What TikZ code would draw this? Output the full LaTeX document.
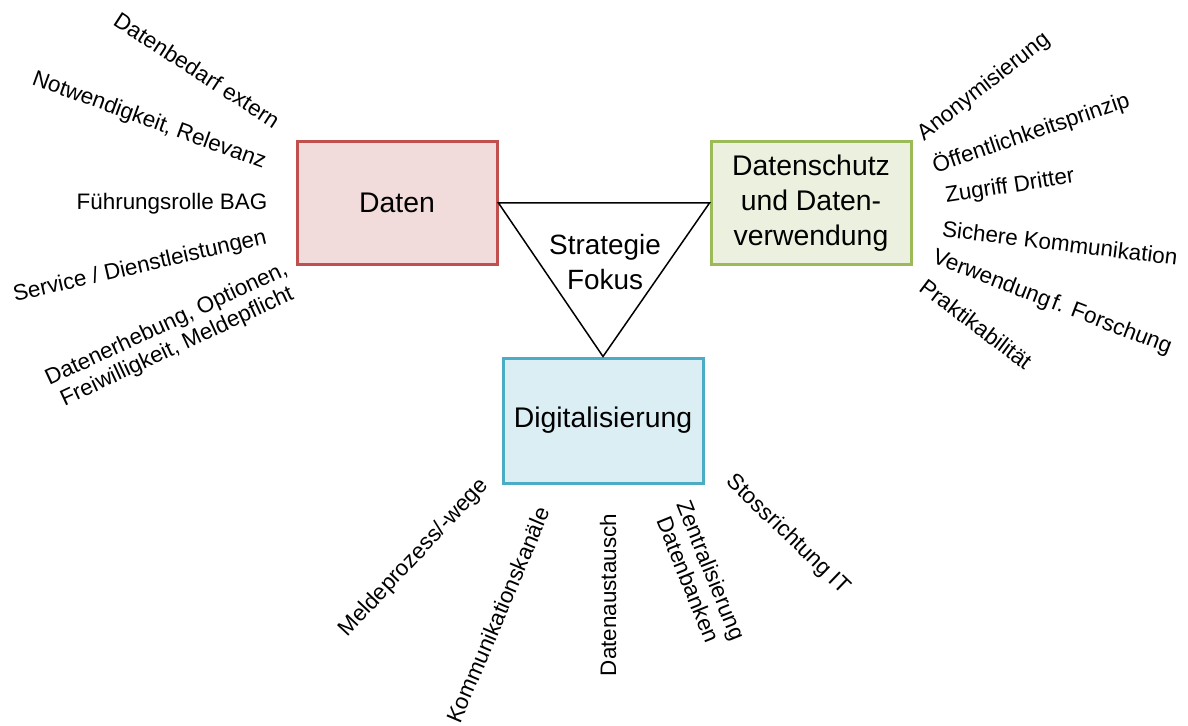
\documentclass[tikz,border=0pt]{standalone}
\usepackage{fontspec}
\setmainfont{Liberation Sans}
\definecolor{redline}{HTML}{C0504D}
\definecolor{redfill}{HTML}{F2DCDB}
\definecolor{greenline}{HTML}{9BBB59}
\definecolor{greenfill}{HTML}{EBF1DE}
\definecolor{blueline}{HTML}{4BACC6}
\definecolor{bluefill}{HTML}{DBEEF4}
\begin{document}
\begin{tikzpicture}[x=1bp,y=-1bp,
  box/.style={draw, line width=3bp, minimum width=200bp, minimum height=123bp,
    inner sep=0pt, align=center, font=\fontsize{28.5}{35}\selectfont},
  lbl/.style={inner sep=0pt, align=center, font=\fontsize{22.5}{25}\selectfont},
  tri/.style={draw=black, line width=1.5bp, line join=miter}]
\useasboundingbox (0,0) rectangle (1188,726);
\fill[white] (0,0) rectangle (1188,726);
% boxes
\node[box, draw=redline, fill=redfill] (daten) at (397,203) {Daten};
\node[box, draw=greenline, fill=greenfill] (schutz) at (811,203) {Datenschutz\\und Daten-\\verwendung};
\node[box, draw=blueline, fill=bluefill, minimum height=125bp] (digi) at (603,420.5) {Digitalisierung};
% triangle
\draw[tri] (daten.east) -- (schutz.west) -- (digi.north) -- cycle;
\node[lbl, font=\fontsize{28}{36}\selectfont] (fokus) at (605,262) {Strategie\\Fokus};
% left labels
\node[lbl, rotate=-33] (l1) at (197,70) {Datenbedarf extern};
\node[lbl, rotate=-20] (l2) at (149,121) {Notwendigkeit, Relevanz};
\node[lbl] (l3) at (172,204) {Führungsrolle BAG};
\node[lbl, rotate=13] (l4) at (140,267) {Service / Dienstleistungen};
\node[lbl, rotate=25] (l5) at (172,336) {Datenerhebung, Optionen,\\Freiwilligkeit, Meldepflicht};
% right labels
\node[lbl, rotate=38] (r1) at (984,87) {Anonymisierung};
\node[lbl, rotate=19] (r2) at (1031,133) {Öffentlichkeitsprinzip};
\node[lbl, rotate=9] (r3) at (1010,187) {Zugriff Dritter};
\node[lbl, rotate=-7] (r4) at (1060,243) {Sichere Kommunikation};
\node[lbl, rotate=-21] (r5) at (1052,303) {Verwendung\hspace{0.12em}f. Forschung};
\node[lbl, rotate=-37] (r6) at (976,324) {Praktikabilität};
% bottom labels
\node[lbl, rotate=47] (b1) at (414,558) {Meldeprozess/-wege};
\node[lbl, rotate=67] (b2) at (498,615) {Kommunikationskanäle};
\node[lbl, rotate=90] (b3) at (608,595) {Datenaustausch};
\node[lbl, rotate=-68] (b4) at (700,575) {Zentralisierung\\Datenbanken};
\node[lbl, rotate=-44] (b5) at (788,535) {Stossrichtung IT};
\end{tikzpicture}
\end{document}
